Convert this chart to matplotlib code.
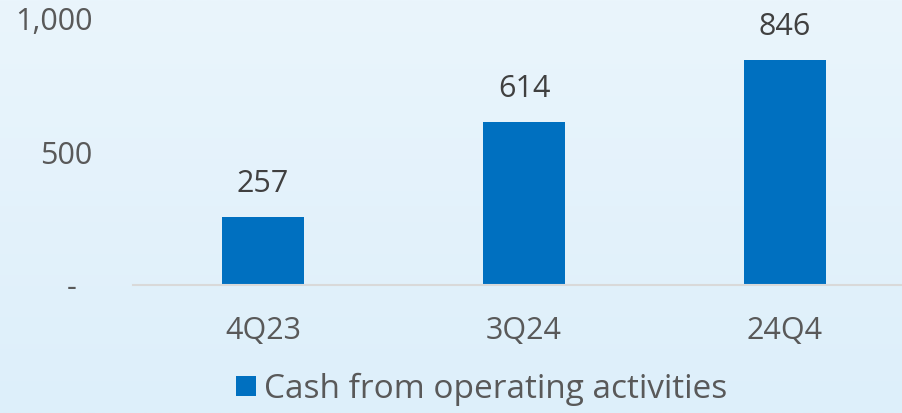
import numpy as np
import matplotlib
matplotlib.use("Agg")
import matplotlib.pyplot as plt
from matplotlib.patches import Patch

# ---------- Data ----------
quarters = ["4Q23", "3Q24", "24Q4"]
cash_ops = [257, 614, 846]
series_name = "Cash from operating activities"
ytick_vals = [0, 500, 1000]
ytick_labels = ["-  ", "500", "1,000"]

# ---------- Style ----------
BAR_COLOR = "#0070C0"
TICK_COLOR = "#595959"
LABEL_COLOR = "#404040"
plt.rcParams["font.family"] = ["Open Sans", "DejaVu Sans"]

W, H = 902, 413
fig = plt.figure(figsize=(W / 100, H / 100), dpi=100)

# background gradient
bg = fig.add_axes([0, 0, 1, 1], zorder=-10)
top = np.array([234, 245, 252]) / 255
bot = np.array([221, 239, 250]) / 255
t = np.linspace(0, 1, 256)[:, None]
grad = (top * (1 - t) + bot * t)[:, None, :]
bg.imshow(grad, aspect="auto", extent=[0, 1, 0, 1])
bg.axis("off")

# main axes (right edge runs past figure like the original)
left = 132.5 / W
right = 915.5 / W
base = 285 / H
ax = fig.add_axes([left, 1 - base, right - left, base])
ax.patch.set_alpha(0)

x = np.arange(len(quarters))
bars = ax.bar(x, cash_ops, width=0.314, color=BAR_COLOR, zorder=2)
ax.set_xlim(-0.5, len(quarters) - 0.5)
ax.set_ylim(0, 1000 * 285 / 266)

for b, v in zip(bars, cash_ops):
    ax.annotate(f"{v:,}", (b.get_x() + b.get_width() / 2, v),
                xytext=(0, 18), textcoords="offset points",
                ha="center", va="baseline", fontsize=22, color=LABEL_COLOR)

ax.set_yticks(ytick_vals)
ax.set_yticklabels(ytick_labels)
ax.set_xticks(x)
ax.set_xticklabels(quarters)
ax.tick_params(axis="y", length=0, pad=29, labelsize=22, labelcolor=TICK_COLOR)
ax.tick_params(axis="x", length=0, pad=22, labelsize=22, labelcolor=TICK_COLOR)

for s in ["top", "right", "left"]:
    ax.spines[s].set_visible(False)
ax.spines["bottom"].set_color("#D9D9D9")
ax.spines["bottom"].set_linewidth(1.5)

handle = Patch(facecolor=BAR_COLOR, edgecolor="none")
fig.legend([handle], [series_name], loc="center", bbox_to_anchor=(0.534, 0.058),
           frameon=False, fontsize=24, labelcolor=TICK_COLOR,
           handlelength=0.58, handleheight=0.55, handletextpad=0.25)

fig.savefig("out.png", dpi=100)
